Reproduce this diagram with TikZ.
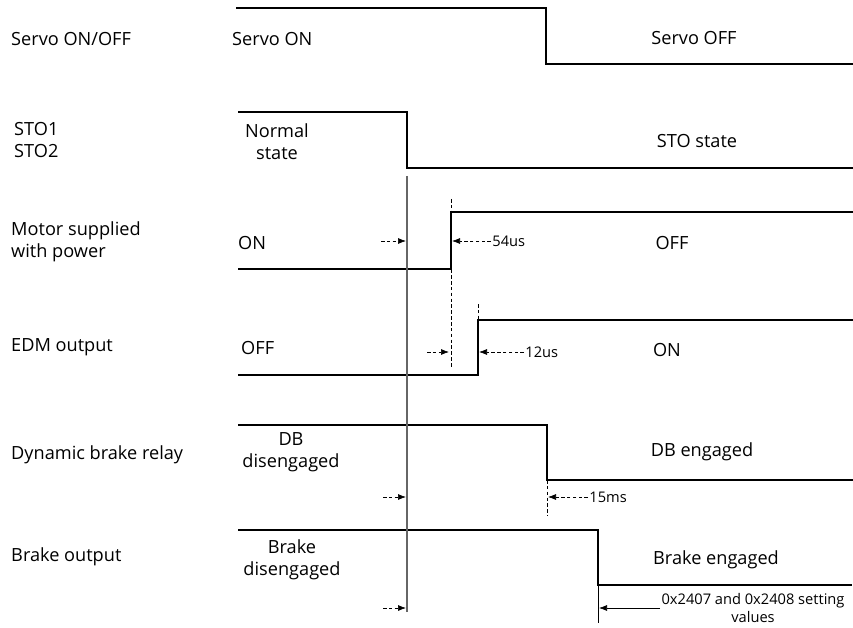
\documentclass[tikz,border=0pt]{standalone}
\usepackage{fontspec}
\setmainfont{Open Sans}
\usetikzlibrary{arrows.meta, calc}

\tikzset{
  wave/.style={line width=1.4pt},
  marker/.style={densely dashed, line width=0.6pt},
  delay/.style={densely dashed, line width=0.6pt, ->},
  signame/.style={anchor=west, align=left, inner sep=0pt},
  tag/.style={font=\fontsize{12.5}{15}\selectfont, inner sep=1pt},
}

\begin{document}
\begin{tikzpicture}[x=0.03cm, y=-0.03cm, >={Latex[length=2.4mm, width=1.8mm]}, every node/.style={font=\fontsize{15.5}{19}\selectfont, align=center}]
  \useasboundingbox (0,0) rectangle (853,628);
  % signal names
  \node[signame] (servoName) at (11,39) {Servo ON/OFF};
  \node[signame] (stoName) at (14,140) {STO1\\STO2};
  \node[signame] (motorName) at (11,242) {Motor supplied\\with power};
  \node[signame] (edmName) at (11,347) {EDM output};
  \node[signame] (dbName) at (11,455) {Dynamic brake relay};
  \node[signame] (brakeName) at (11,557) {Brake output};

  % waveforms
  \draw[wave] (236,8) -- (546,8) -- (546,64) -- (853,64);
  \draw[wave] (238,112) -- (407,112) -- (407,168) -- (853,168);
  \draw[wave] (238,269) -- (451,269) -- (451,212) -- (853,212);
  \draw[wave] (238,375) -- (478,375) -- (478,320) -- (853,320);
  \draw[wave] (238,425) -- (547,425) -- (547,480) -- (853,480);
  \draw[wave] (238,530) -- (598,530) -- (598,585) -- (852,585);

  % state texts
  \node[anchor=west, inner sep=0pt] (servoOn) at (232,39) {Servo ON};
  \node (servoOff) at (694,38) {Servo OFF};
  \node (normal) at (277,142) {Normal\\state};
  \node (stoState) at (697,141) {STO state};
  \node[anchor=west, inner sep=0pt] (motorOn) at (238,243) {ON};
  \node (motorOff) at (672,243) {OFF};
  \node[anchor=west, inner sep=0pt] (edmOff) at (241,348) {OFF};
  \node (edmOn) at (667,350) {ON};
  \node (dbOff) at (291,452) {DB\\disengaged};
  \node (dbOn) at (702,452) {DB engaged};
  \node (brakeOff) at (292,560) {Brake\\disengaged};
  \node (brakeOn) at (716,560) {Brake engaged};

  % reference and edge markers
  \coordinate (stoTop) at (407,176);
  \coordinate (stoBot) at (407,612);
  \draw[gray!80!black, line width=0.9pt] (stoTop) -- (stoBot);
  \draw[marker] (451,199) -- (451,368);
  \draw[marker] (478,304) -- (478,375);
  \draw[marker] (547,480) -- (547,516);
  \draw[line width=0.6pt] (598,585) -- (598,623);

  % delays
  \draw[delay] (381,241) -- (406,241);
  \node[tag, anchor=west] (t54) at (491,241) {54us};
  \draw[delay] (t54.west) -- (452,241);
  \draw[delay] (427,352) -- (449,352);
  \node[tag, anchor=west] (t12) at (524,352) {12us};
  \draw[delay] (t12.west) -- (479,352);
  \draw[delay] (383,497) -- (406,497);
  \node[tag, anchor=west] (t15) at (588,497) {15ms};
  \draw[delay] (t15.west) -- (548,497);
  \draw[delay] (383,608) -- (406,608);
  \node[tag, anchor=north] (tSet) at (753,592) {0x2407 and 0x2408 setting\\values};
  \draw[line width=0.6pt, ->] (tSet.west |- 0,608) -- (599,608);
\end{tikzpicture}
\end{document}
